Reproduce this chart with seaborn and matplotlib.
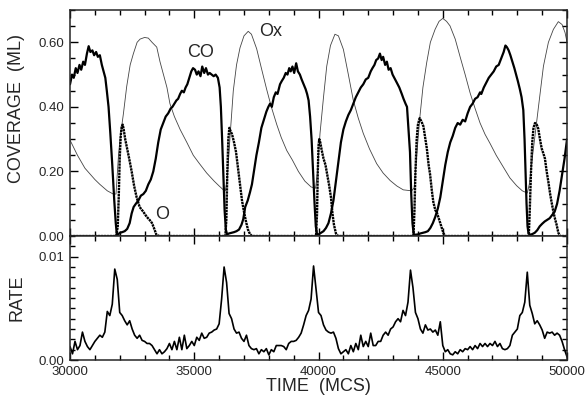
import numpy as np
import pandas as pd
import matplotlib
matplotlib.use("Agg")
import matplotlib.pyplot as plt
import seaborn as sns
from matplotlib.ticker import MultipleLocator, FormatStrFormatter

# CO coverage (thick solid line)
co_time = [30000, 30080, 30150, 30230, 30300, 30380, 30450, 30530, 30600, 30680, 30750, 30820,
           30900, 30970, 31050, 31120, 31200, 31280, 31350, 31420, 31480, 31550, 31620, 31700,
           31780, 31840, 31880, 31930, 32000, 32100, 32200, 32300, 32400, 32480, 32560, 32650,
           32750, 32850, 32950, 33050, 33150, 33250, 33350, 33450, 33550, 33650, 33750, 33850,
           33950, 34050, 34120, 34200, 34280, 34350, 34430, 34500, 34580, 34650, 34720, 34800,
           34880, 34950, 35030, 35100, 35170, 35250, 35320, 35400, 35470, 35550, 35620, 35700,
           35780, 35860, 35950, 36020, 36070, 36120, 36170, 36220, 36270, 36320, 36400, 36500,
           36600, 36700, 36800, 36900, 36970, 37050, 37150, 37240, 37320, 37400, 37500, 37600,
           37700, 37800, 37900, 37980, 38050, 38120, 38200, 38280, 38350, 38450, 38520, 38600,
           38680, 38750, 38820, 38880, 38950, 39020, 39100, 39170, 39250, 39320, 39400, 39480,
           39540, 39600, 39660, 39720, 39780, 39840, 39890, 39940, 40000, 40100, 40200, 40300,
           40400, 40500, 40600, 40700, 40800, 40900, 41000, 41100, 41200, 41300, 41400, 41500,
           41600, 41700, 41800, 41900, 42000, 42100, 42170, 42250, 42320, 42400, 42470, 42540,
           42600, 42680, 42750, 42820, 42900, 42980, 43050, 43150, 43250, 43350, 43420, 43500,
           43560, 43620, 43680, 43730, 43780, 43830, 43900, 44000, 44100, 44200, 44300, 44400,
           44500, 44600, 44700, 44800, 44900, 45000, 45100, 45200, 45300, 45400, 45500, 45600,
           45700, 45800, 45900, 46000, 46100, 46200, 46300, 46400, 46500, 46550, 46650, 46750,
           46850, 46950, 47050, 47150, 47250, 47350, 47450, 47520, 47580, 47650, 47720, 47800,
           47880, 47950, 48020, 48100, 48170, 48240, 48290, 48330, 48370, 48410, 48450, 48520,
           48600, 48700, 48800, 48900, 49000, 49100, 49200, 49300, 49400, 49500, 49600, 49700,
           49800, 49900, 50000]
co = [0.47, 0.50, 0.49, 0.52, 0.505, 0.53, 0.515, 0.54, 0.53, 0.565, 0.588, 0.57,
      0.575, 0.56, 0.57, 0.555, 0.56, 0.53, 0.51, 0.49, 0.45, 0.40, 0.32, 0.22,
      0.11, 0.04, 0.008, 0.004, 0.01, 0.012, 0.015, 0.022, 0.04, 0.07, 0.09, 0.10,
      0.11, 0.125, 0.13, 0.14, 0.16, 0.175, 0.20, 0.24, 0.29, 0.33, 0.35, 0.37,
      0.38, 0.395, 0.40, 0.41, 0.42, 0.425, 0.44, 0.45, 0.445, 0.46, 0.47, 0.49,
      0.51, 0.52, 0.515, 0.50, 0.51, 0.495, 0.525, 0.505, 0.52, 0.50, 0.505, 0.50,
      0.495, 0.50, 0.49, 0.46, 0.40, 0.30, 0.19, 0.08, 0.02, 0.005, 0.008, 0.01,
      0.012, 0.015, 0.02, 0.035, 0.052, 0.09, 0.11, 0.135, 0.16, 0.20, 0.25, 0.29,
      0.335, 0.36, 0.385, 0.40, 0.41, 0.40, 0.43, 0.445, 0.44, 0.47, 0.48, 0.49,
      0.505, 0.50, 0.52, 0.51, 0.525, 0.505, 0.535, 0.51, 0.50, 0.485, 0.47, 0.455,
      0.44, 0.42, 0.37, 0.30, 0.20, 0.10, 0.03, 0.005, 0.005, 0.01, 0.015, 0.025,
      0.04, 0.07, 0.11, 0.17, 0.23, 0.29, 0.33, 0.355, 0.375, 0.39, 0.41, 0.43,
      0.445, 0.46, 0.47, 0.485, 0.49, 0.51, 0.52, 0.53, 0.545, 0.55, 0.565, 0.545,
      0.555, 0.53, 0.54, 0.515, 0.52, 0.50, 0.49, 0.475, 0.46, 0.44, 0.425, 0.41,
      0.40, 0.33, 0.26, 0.13, 0.04, 0.005, 0.004, 0.005, 0.008, 0.01, 0.012, 0.015,
      0.025, 0.04, 0.06, 0.085, 0.12, 0.17, 0.22, 0.26, 0.29, 0.31, 0.335, 0.35,
      0.345, 0.36, 0.355, 0.38, 0.40, 0.41, 0.425, 0.43, 0.445, 0.44, 0.46, 0.475,
      0.49, 0.50, 0.51, 0.525, 0.53, 0.55, 0.57, 0.59, 0.585, 0.575, 0.56, 0.54,
      0.52, 0.50, 0.48, 0.455, 0.43, 0.39, 0.30, 0.20, 0.10, 0.03, 0.008, 0.004,
      0.006, 0.01, 0.018, 0.03, 0.038, 0.045, 0.05, 0.055, 0.065, 0.075, 0.10, 0.14,
      0.19, 0.24, 0.30]

# O coverage (dotted line)
o_time = [30000, 31860, 31920, 31960, 32000, 32040, 32080, 32120, 32160, 32220, 32300, 32380,
          32480, 32580, 32680, 32800, 32950, 33080, 33200, 33300, 33400, 33480, 33600,
          36250, 36290, 36330, 36370, 36410, 36460, 36520, 36600, 36680, 36760, 36840, 36920,
          37000, 37080, 37160, 37240, 37320,
          39900, 39940, 39970, 40000, 40030, 40070, 40130, 40200, 40280, 40350, 40420, 40500,
          40560, 40620, 40700, 40780,
          43820, 43860, 43900, 43950, 44000, 44070, 44140, 44220, 44300, 44360, 44430, 44490,
          44560, 44620, 44700, 44760, 44890, 44960, 45030, 45100,
          48460, 48500, 48550, 48600, 48650, 48710, 48780, 48840, 48910, 48980, 49050, 49110,
          49180, 49250, 49320, 49380, 49450, 49520, 49580, 49650, 49720, 50000]
o = [0.0, 0.0, 0.03, 0.12, 0.24, 0.31, 0.34, 0.345, 0.33, 0.30, 0.27, 0.24,
     0.20, 0.155, 0.12, 0.09, 0.075, 0.06, 0.05, 0.04, 0.02, 0.003, 0.0,
     0.0, 0.05, 0.20, 0.30, 0.335, 0.325, 0.315, 0.29, 0.26, 0.21, 0.16, 0.11,
     0.075, 0.045, 0.02, 0.006, 0.0,
     0.0, 0.07, 0.20, 0.28, 0.30, 0.29, 0.265, 0.24, 0.22, 0.19, 0.16, 0.12,
     0.07, 0.035, 0.008, 0.0,
     0.0, 0.08, 0.20, 0.30, 0.345, 0.365, 0.355, 0.34, 0.30, 0.27, 0.22, 0.19,
     0.14, 0.105, 0.08, 0.073, 0.042, 0.025, 0.008, 0.0,
     0.0, 0.08, 0.20, 0.29, 0.335, 0.35, 0.345, 0.333, 0.30, 0.271, 0.255, 0.24,
     0.20, 0.167, 0.13, 0.104, 0.075, 0.052, 0.035, 0.01, 0.0, 0.0]

# Ox coverage (thin line)
ox_time = [30000, 30300, 30600, 31000, 31200, 31500, 31740, 31850, 31950, 32010, 32150, 32280,
           32420, 32550, 32700, 32820, 33000, 33150, 33300, 33490, 33620, 33760, 33900, 34020,
           34200, 34430, 34700, 34960, 35200, 35500, 35800, 36000, 36170, 36250, 36330, 36450,
           36570, 36700, 36840, 37000, 37170, 37300, 37510, 37700, 37910, 38100, 38320, 38500,
           38720, 38950, 39190, 39450, 39700, 39880, 39960, 40060, 40200, 40330, 40480, 40660,
           40800, 41000, 41200, 41400, 41600, 41800, 42050, 42340, 42600, 42880, 43150, 43410,
           43750, 43850, 43950, 44080, 44200, 44350, 44500, 44690, 44850, 45000, 45150, 45290,
           45500, 45690, 45900, 46100, 46300, 46500, 46700, 46900, 47150, 47440, 47700, 47970,
           48200, 48400, 48480, 48640, 48850, 49050, 49250, 49450, 49650, 49800, 49920, 50000]
ox = [0.297, 0.25, 0.21, 0.175, 0.16, 0.14, 0.13, 0.13, 0.25, 0.30, 0.38, 0.463,
      0.53, 0.565, 0.60, 0.61, 0.615, 0.613, 0.60, 0.585, 0.54, 0.50, 0.46, 0.41,
      0.37, 0.33, 0.29, 0.25, 0.225, 0.195, 0.17, 0.155, 0.143, 0.14, 0.18, 0.32,
      0.45, 0.53, 0.583, 0.62, 0.634, 0.625, 0.58, 0.52, 0.455, 0.40, 0.345, 0.305,
      0.265, 0.235, 0.20, 0.17, 0.152, 0.148, 0.20, 0.318, 0.43, 0.526, 0.59, 0.625,
      0.62, 0.578, 0.50, 0.42, 0.365, 0.318, 0.27, 0.224, 0.195, 0.172, 0.155, 0.143,
      0.14, 0.15, 0.25, 0.37, 0.46, 0.536, 0.60, 0.64, 0.665, 0.674, 0.665, 0.651,
      0.61, 0.557, 0.50, 0.443, 0.395, 0.35, 0.315, 0.287, 0.25, 0.213, 0.18, 0.156,
      0.14, 0.133, 0.16, 0.266, 0.40, 0.526, 0.60, 0.64, 0.664, 0.655, 0.63, 0.60]

# reaction rate, every 100 MCS
rate_time = np.arange(30000, 50001, 100)
rate = [0.0013, 0.0006, 0.0018, 0.0010, 0.0014, 0.0027, 0.0018, 0.0013, 0.0010, 0.0014,
        0.0018, 0.0021, 0.0024, 0.0022, 0.0027, 0.0047, 0.0043, 0.0054, 0.0088, 0.0078,
        0.0046, 0.0043, 0.0038, 0.0034, 0.0038, 0.0030, 0.0024, 0.0021, 0.0024, 0.0019,
        0.0018, 0.0016, 0.0016, 0.0014, 0.0010, 0.0006, 0.0010, 0.0006, 0.0008, 0.0011,
        0.0016, 0.0010, 0.0018, 0.0010, 0.0022, 0.0010, 0.0024, 0.0011, 0.0014, 0.0018,
        0.0014, 0.0022, 0.0019, 0.0026, 0.0021, 0.0022, 0.0026, 0.0027, 0.0029, 0.0030,
        0.0035, 0.0059, 0.0090, 0.0075, 0.0045, 0.0040, 0.0030, 0.0026, 0.0027, 0.0021,
        0.0018, 0.0024, 0.0014, 0.0011, 0.0010, 0.0011, 0.0006, 0.0010, 0.0008, 0.0011,
        0.0005, 0.0010, 0.0008, 0.0014, 0.0014, 0.0014, 0.0013, 0.0010, 0.0016, 0.0018,
        0.0018, 0.0019, 0.0022, 0.0026, 0.0034, 0.0043, 0.0048, 0.0059, 0.0091, 0.0068,
        0.0046, 0.0043, 0.0034, 0.0029, 0.0027, 0.0026, 0.0027, 0.0021, 0.0011, 0.0006,
        0.0008, 0.0010, 0.0006, 0.0014, 0.0008, 0.0016, 0.0010, 0.0024, 0.0013, 0.0018,
        0.0013, 0.0026, 0.0014, 0.0014, 0.0018, 0.0018, 0.0024, 0.0027, 0.0024, 0.0030,
        0.0032, 0.0037, 0.0040, 0.0037, 0.0048, 0.0043, 0.0056, 0.0087, 0.0070, 0.0046,
        0.0040, 0.0030, 0.0026, 0.0034, 0.0029, 0.0030, 0.0027, 0.0029, 0.0024, 0.0037,
        0.0014, 0.0008, 0.0010, 0.0006, 0.0005, 0.0008, 0.0006, 0.0010, 0.0008, 0.0011,
        0.0010, 0.0013, 0.0010, 0.0014, 0.0011, 0.0016, 0.0013, 0.0016, 0.0013, 0.0016,
        0.0014, 0.0018, 0.0013, 0.0016, 0.0011, 0.0010, 0.0011, 0.0014, 0.0024, 0.0027,
        0.0030, 0.0043, 0.0046, 0.0056, 0.0085, 0.0053, 0.0045, 0.0035, 0.0038, 0.0034,
        0.0029, 0.0021, 0.0027, 0.0026, 0.0027, 0.0024, 0.0026, 0.0024, 0.0018, 0.0010,
        0.0003]

# curve labels
labels = ["CO", "Ox", "O"]
label_pos = [(35270, 0.569), (38090, 0.634), (33700, 0.066)]

sns.set_style("ticks")
plt.rcParams['font.family'] = ['Liberation Sans', 'DejaVu Sans']
plt.rcParams['axes.linewidth'] = 1.1

fig = plt.figure(figsize=(5.87, 3.96), dpi=100)
ax1 = fig.add_axes([0.1193, 0.404, 0.8467, 0.5707])
ax2 = fig.add_axes([0.1193, 0.0909, 0.8467, 0.3131], sharex=ax1)

sns.lineplot(x=ox_time, y=ox, ax=ax1, color="#444444", lw=0.6)
sns.lineplot(x=co_time, y=co, ax=ax1, color="black", lw=1.6)
sns.lineplot(x=o_time, y=o, ax=ax1, color="black", lw=1.7, linestyle=(0, (1.0, 0.3)))
for lab, (tx, ty) in zip(labels, label_pos):
    ax1.text(tx, ty, lab, fontsize=13, ha="center", va="center")

sns.lineplot(x=rate_time, y=rate, ax=ax2, color="black", lw=1.2)

ax1.set_xlim(30000, 50000)
ax1.set_ylim(0, 0.70)
ax2.set_ylim(0, 0.012)

for ax in (ax1, ax2):
    ax.xaxis.set_major_locator(MultipleLocator(5000))
    ax.xaxis.set_minor_locator(MultipleLocator(1000))
    ax.tick_params(which="both", direction="in", top=True, right=True, width=1.0,
                   labelsize=9.5, pad=4, color="black")
    ax.tick_params(which="major", length=6)
    ax.tick_params(which="minor", length=3.5)

ax1.yaxis.set_major_locator(MultipleLocator(0.2))
ax1.yaxis.set_minor_locator(MultipleLocator(0.05))
ax1.yaxis.set_major_formatter(FormatStrFormatter("%.2f"))
ax1.tick_params(labelbottom=False)

ax2.yaxis.set_major_locator(MultipleLocator(0.01))
ax2.yaxis.set_minor_locator(MultipleLocator(0.001))
ax2.yaxis.set_major_formatter(FormatStrFormatter("%.2f"))

ax1.set_xlabel("")
ax1.set_ylabel("COVERAGE  (ML)", fontsize=13)
ax1.yaxis.set_label_coords(-0.0905, 0.566)
ax2.set_ylabel("RATE", fontsize=13)
ax2.yaxis.set_label_coords(-0.0905, 0.5)
ax2.set_xlabel("TIME  (MCS)", fontsize=13)
ax2.xaxis.set_label_coords(0.499, -0.145)
ax2.xaxis.label.set_va("top")

fig.savefig("out.png", dpi=100)
